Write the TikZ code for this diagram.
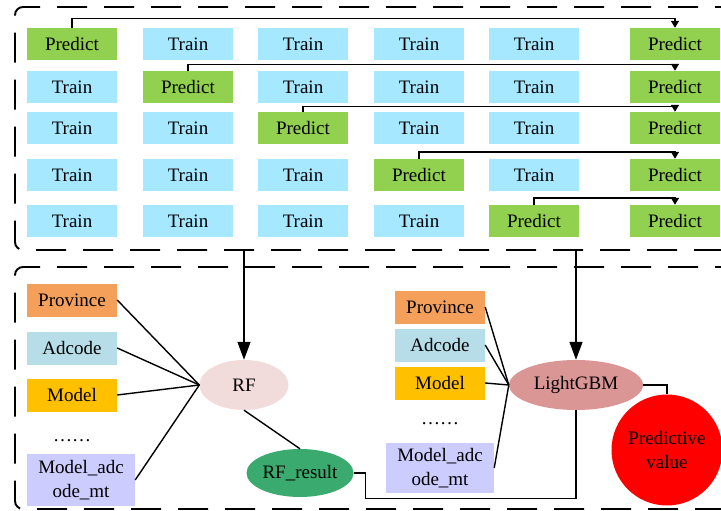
\documentclass[tikz,border=0pt]{standalone}
\usepackage{fontspec}
\setmainfont{Liberation Serif}
\usetikzlibrary{shapes.geometric,arrows.meta}
\definecolor{trainblue}{HTML}{A6E8FF}
\definecolor{predgreen}{HTML}{92D050}
\definecolor{provorange}{HTML}{F5A05A}
\definecolor{adcblue}{HTML}{B7DDE8}
\definecolor{modelyellow}{HTML}{FFC000}
\definecolor{madclav}{HTML}{CCCCFF}
\definecolor{rfpink}{HTML}{F2DCDB}
\definecolor{rfgreen}{HTML}{3BAA6E}
\definecolor{lgbrose}{HTML}{D99694}
\definecolor{pvred}{HTML}{FF0000}
\begin{document}
\begin{tikzpicture}[x=1pt,y=-1pt,
  txt/.style={font=\fontsize{19}{24}\selectfont},
  cell/.style={txt,minimum width=90pt,minimum height=32pt,inner sep=0pt},
  train/.style={cell,fill=trainblue},
  predict/.style={cell,fill=predgreen},
  feat/.style={txt,minimum width=90pt,minimum height=33pt,inner sep=0pt},
  madc/.style={txt,fill=madclav,align=center,inner sep=0pt},
  conn/.style={line width=1.4pt},
  smallarrow/.style={conn,-{Triangle[length=7pt,width=8pt]}},
  bigarrow/.style={conn,-{Triangle[length=18pt,width=13pt]}},
  dashbox/.style={line width=1.9pt,dash pattern=on 30pt off 17pt,rounded corners=8pt}
]
\useasboundingbox (0,0) rectangle (721,511);
\clip (0,0) rectangle (721,511);

% dashed frames
\draw[dashbox] (745,7) -- (15,7) -- (15,250) -- (745,250);
\draw[dashbox] (745,267) -- (15,267) -- (15,509) -- (745,509);

% grid
\foreach \r/\y in {1/44,2/87,3/128,4/175,5/221}{
  \foreach \c/\x in {1/72,2/188,3/303,4/419,5/534}{
    \ifnum\r=\c
      \node[predict] (c\r-\c) at (\x,\y) {Predict};
    \else
      \node[train] (c\r-\c) at (\x,\y) {Train};
    \fi
  }
  \node[predict] (c\r-6) at (675,\y) {Predict};
}
\draw[smallarrow] (c1-1.north) -- ++(0,-9) -| (c1-6.north);
\draw[smallarrow] (c2-2.north) -- ++(0,-6) -| (c2-6.north);
\draw[smallarrow] (c3-3.north) -- ++(0,-5) -| (c3-6.north);
\draw[smallarrow] (c4-4.north) -- ++(0,-7) -| (c4-6.north);
\draw[smallarrow] (c5-5.north) -- ++(0,-7) -| (c5-6.north);

% left model
\node[feat,fill=provorange] (p1) at (72,300) {Province};
\node[feat,fill=adcblue] (a1) at (72,348) {Adcode};
\node[feat,fill=modelyellow] (m1) at (72,395) {Model};
\node[txt] (d1) at (72,441) {……};
\node[madc,minimum width=108pt,minimum height=52pt] (x1) at (81,480) {Model\_adc\\ode\_mt};
\node[txt,ellipse,fill=rfpink,minimum width=89pt,minimum height=50pt,inner sep=0pt] (rf) at (244,385) {RF};
\node[txt,ellipse,fill=rfgreen,minimum width=107pt,minimum height=48pt,inner sep=0pt] (rfr) at (300,473) {RF\_result};

% right model
\node[feat,fill=provorange] (p2) at (440,307) {Province};
\node[feat,fill=adcblue] (a2) at (440,345) {Adcode};
\node[feat,fill=modelyellow] (m2) at (440,383) {Model};
\node[txt] (d2) at (440,424) {……};
\node[madc,minimum width=108pt,minimum height=50pt] (x2) at (440,468) {Model\_adc\\ode\_mt};
\node[txt,ellipse,fill=lgbrose,minimum width=134pt,minimum height=50pt,inner sep=0pt] (lgb) at (576,385) {LightGBM};
\node[txt,circle,fill=pvred,minimum size=111pt,inner sep=0pt,align=center] (pv) at (667,450) {Predictive\\value};

% connectors from grid
\coordinate (s1) at (244,250);
\coordinate (s2) at (576,250);
\draw[bigarrow] (s1) -- (rf.north);
\draw[bigarrow] (s2) -- (lgb.north);

\foreach \n in {p1,a1,m1} \draw[conn] (\n.east) -- (rf.west);
\draw[conn] (x1.east) -- (rf.west);
\draw[conn] (rf.south) -- (rfr.north);
\foreach \n in {p2,a2,m2} \draw[conn] (\n.east) -- (lgb.west);
\draw[conn] (x2.east) -- (lgb.west);
\draw[conn] (rfr.east) -- ++(12,0) |- ([yshift=-88pt]lgb.south) -- (lgb.south);
\draw[conn] (lgb.east) -| (pv.north);
\end{tikzpicture}
\end{document}
